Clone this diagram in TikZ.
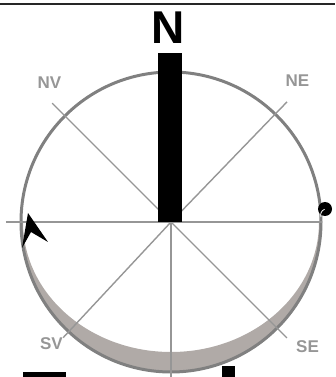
\documentclass[tikz,border=0pt]{standalone}
\usepackage{fontspec}
\setmainfont{Liberation Sans}
\definecolor{RimGray}{RGB}{128,128,128}
\definecolor{RayGray}{RGB}{150,150,150}
\definecolor{ShadeGray}{RGB}{176,170,167}
\definecolor{LabelGray}{RGB}{150,150,150}
\usetikzlibrary{positioning, calc}

\begin{document}
\begin{tikzpicture}[x=1pt, y=1pt,
    ray/.style={RayGray, line width=1.4pt},
    dirlabel/.style={LabelGray, font=\bfseries\fontsize{17}{17}\selectfont, inner sep=0pt}]
          \useasboundingbox (-171,-155) rectangle (164,222);
          \coordinate (O) at (0,0);
          % top rule
          \draw[line width=2pt, black!85] (-171,218) -- (164,218);
          % shaded crescent
          \fill[ShadeGray] (O) ++(-150,0) arc[start angle=180, end angle=360, radius=150]
              -- ++(-2,0) arc[start angle=0, end angle=-180, x radius=148, y radius=130] -- cycle;
          \draw[RimGray, line width=3pt] (O) circle (150);
          % rays
          \coordinate (nv) at (135:168);
          \coordinate (ne) at (46:167);
          \coordinate (sv) at (227:158);
          \coordinate (se) at (315:164);
          \coordinate (s) at (0,-156);
          \coordinate (w) at (-165,0);
          \coordinate (e) at (151,0);
          \foreach \p in {nv, ne, sv, se, s} \draw[ray] (O) -- (\p);
          \draw[ray, line width=2.4pt] (w) -- (e);
          % north bar
          \fill[black] (-13,0) rectangle (11,169);
          \node[font=\bfseries\fontsize{46}{46}\selectfont, inner sep=0pt] (N) at (-3,194) {N};
          \node[dirlabel] (NV) at (-121.5,139.5) {NV};
          \node[dirlabel] (NE) at (126.5,141) {NE};
          \node[dirlabel] (SV) at (-119.5,-122) {SV};
          \node[dirlabel] (SE) at (136.5,-125) {SE};
          % pointer and ball
          \fill[black] (-143,9) -- (-123,-20) -- (-140,-10) -- (-149,-26) -- cycle;
          \fill[black] (154,13) circle (7);
          \draw[white, line width=0.8pt] (150,5) arc[start angle=200, end angle=110, radius=6];
          % cut-off marks at the bottom
          \fill[black] (-148,-150) rectangle (-105,-155);
          \fill[black] (51,-144) rectangle (64,-155);
        \end{tikzpicture}
\end{document}
